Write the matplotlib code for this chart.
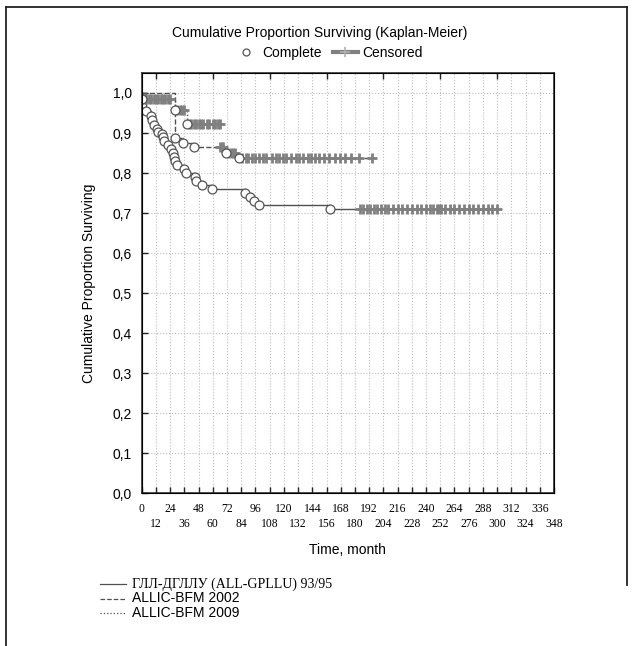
import matplotlib
matplotlib.use('Agg')
import matplotlib.pyplot as plt
from matplotlib.lines import Line2D
import numpy as np

plt.rcParams['font.family'] = ['Liberation Sans', 'DejaVu Sans']

# ---- data (time in months, proportion surviving) ----
# group 1: ГЛЛ-ДГЛЛУ 93/95 (solid)
g1_t = [0, 4, 8, 9, 10, 13, 14, 17, 18, 19, 22, 25, 26, 27, 28, 30, 36, 37, 45, 46, 51, 59, 87, 91, 95, 99, 159]
g1_s = [1.0, 0.955, 0.943, 0.932, 0.920, 0.910, 0.903, 0.897, 0.890, 0.880, 0.870, 0.860, 0.850, 0.840,
        0.830, 0.820, 0.810, 0.800, 0.790, 0.780, 0.770, 0.760, 0.750, 0.740, 0.730, 0.720, 0.710]
g1_cens_t = [184, 187, 190, 193, 196, 199, 202, 205, 208, 212, 216, 220, 224, 228, 232, 236, 240,
             243, 246, 249, 251, 253, 256, 260, 264, 268, 272, 276, 280, 284, 288, 292, 296, 300]
g1_cens_s = [0.710] * len(g1_cens_t)

# group 2: ALLIC-BFM 2002 (dashed)
g2_t = [0, 28, 35, 44, 71, 82]
g2_s = [1.0, 0.887, 0.875, 0.864, 0.851, 0.837]
g2_cens_t = [66, 68, 69, 73, 75, 77, 79, 85, 88, 90, 93, 96, 99, 102, 105, 110, 113, 116, 119, 122,
             126, 130, 133, 136, 140, 143, 146, 150, 154, 158, 163, 167, 172, 177, 183, 194]
g2_cens_s = [0.864, 0.864, 0.864, 0.851, 0.851, 0.851, 0.851] + [0.837] * 29

# group 3: ALLIC-BFM 2009 (dotted)
g3_t = [0, 0.5, 28, 38]
g3_s = [1.0, 0.985, 0.957, 0.922]
g3_cens_t = [2, 4, 6, 8, 10, 12, 14, 16, 18, 20, 22, 24, 30, 32, 34, 36,
             40, 42, 44, 46, 48, 50, 52, 55, 57, 60, 62, 64, 66]
g3_cens_s = [0.985] * 12 + [0.957] * 4 + [0.922] * 13

group_labels = ['ГЛЛ-ДГЛЛУ (ALL-GPLLU) 93/95', 'ALLIC-BFM 2002', 'ALLIC-BFM 2009']
group_styles = ['-', '--', ':']

x_ticks_row1 = list(range(0, 349, 24))
x_ticks_row2 = list(range(12, 349, 24))
y_ticks = [0.0, 0.1, 0.2, 0.3, 0.4, 0.5, 0.6, 0.7, 0.8, 0.9, 1.0]

LINE = '#505050'
CENS = '#808080'

fig = plt.figure(figsize=(6.34, 6.46), dpi=100)
ax = fig.add_axes([0.2235, 0.2368, 0.6503, 0.6502])

groups = [(g1_t, g1_s, g1_cens_t, g1_cens_s),
          (g2_t, g2_s, g2_cens_t, g2_cens_s),
          (g3_t, g3_s, g3_cens_t, g3_cens_s)]

for (t, s, ct, cs), ls in zip(groups, group_styles):
    t_end = max(t[-1], max(ct))
    ax.plot(t + [t_end], s + [s[-1]], drawstyle='steps-post', color=LINE, lw=1.0, ls=ls, zorder=3)
    ax.plot(ct, cs, ls='none', marker='+', ms=7, mew=2.0, color=CENS, zorder=4)
    ax.plot(t[1:], s[1:], ls='none', marker='o', ms=6.4, mfc='white', mec='#555555', mew=0.9, zorder=5)

ax.set_xlim(0, 348)
ax.set_ylim(0, 1.05)
# two rows of x labels: major ticks in the first row, minor ticks in the second
ax.set_xticks(x_ticks_row1)
ax.set_xticklabels([str(v) for v in x_ticks_row1], family=['Liberation Serif'], fontsize=8.4)
ax.set_xticks(x_ticks_row2, minor=True)
ax.set_xticklabels([str(v) for v in x_ticks_row2], minor=True, family=['Liberation Serif'], fontsize=8.4)
ax.set_yticks(y_ticks)
ax.set_yticklabels([f'{v:.1f}'.replace('.', ',') for v in y_ticks], fontsize=10)
ax.tick_params(axis='both', which='both', direction='in', length=4, width=1, color='#222222')
ax.tick_params(axis='x', which='major', pad=7)
ax.tick_params(axis='x', which='minor', pad=18)
ax.tick_params(axis='y', pad=7)
ax.grid(True, which='both', color='#bdbdbd', ls=':', lw=0.8)
for sp in ax.spines.values():
    sp.set_linewidth(1.1)
    sp.set_color('#222222')

# secondary ticks on top spine
ax_top = ax.twiny()
ax_top.set_xlim(ax.get_xlim())
ax_top.set_xticks([12, 60, 108, 156, 204, 252, 300])
ax_top.set_xticklabels([])
ax_top.tick_params(axis='x', direction='in', length=4, width=1, color='#222222')

ax.set_xlabel('Time, month', fontsize=10, labelpad=9)
ax.set_ylabel('Cumulative Proportion Surviving', fontsize=10, labelpad=12)

fig.text(0.505, 1 - 33 / 646, 'Cumulative Proportion Surviving (Kaplan-Meier)',
         ha='center', va='center', fontsize=10)

h_complete = Line2D([], [], ls='none', marker='o', ms=5, mfc='white', mec='#555555', mew=0.9)
h_cens = Line2D([], [], color=CENS, lw=3, marker='+', ms=7, mew=1.2, mec='#b0b0b0')
fig.legend([h_complete, h_cens], ['Complete', 'Censored'], loc='center',
           bbox_to_anchor=(0.517, 1 - 53 / 646), ncol=2, frameon=False, fontsize=10,
           handlelength=1.8, handletextpad=0.3, columnspacing=0.8, borderpad=0)

# bottom legend with line styles
for i, (lab, ls) in enumerate(zip(group_labels, group_styles)):
    y = 1 - (584 + 14.5 * i) / 646
    fig.add_artist(Line2D([100 / 634, 126 / 634], [y, y], ls=ls, color=LINE, lw=0.9,
                          transform=fig.transFigure))
    fam = ['Liberation Serif'] if i == 0 else ['Liberation Sans']
    fig.text(132 / 634, y, lab, ha='left', va='center', fontsize=10, family=fam)

# outer frame
fig.add_artist(Line2D([6 / 634, 6 / 634], [0, 1 - 7 / 646], color='#222222', lw=1.3,
                      transform=fig.transFigure))
fig.add_artist(Line2D([6 / 634, 627 / 634], [1 - 7 / 646, 1 - 7 / 646], color='#222222', lw=1.3,
                      transform=fig.transFigure))
fig.add_artist(Line2D([627 / 634, 627 / 634], [1 - 7 / 646, 1 - 585 / 646], color='#222222', lw=1.3,
                      transform=fig.transFigure))

fig.savefig('out.png', dpi=100, facecolor='white')
